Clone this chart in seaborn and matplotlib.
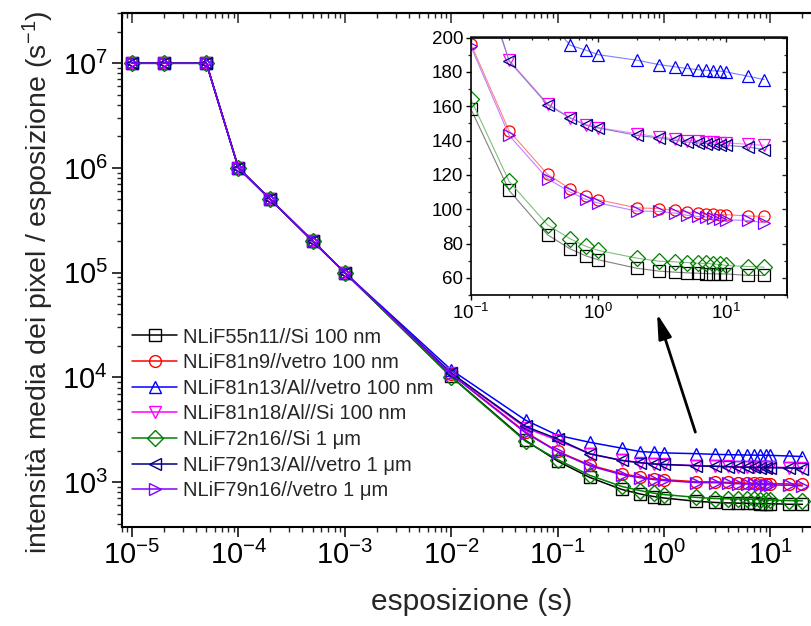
import numpy as np
import pandas as pd
import matplotlib
matplotlib.use("Agg")
import matplotlib.pyplot as plt
import matplotlib.colors as mcolors
from matplotlib.ticker import LogLocator, NullFormatter, MultipleLocator
import seaborn as sns

# ---------------- data ----------------
names = [
    "NLiF55n11//Si 100 nm",
    "NLiF81n9//vetro 100 nm",
    "NLiF81n13/Al//vetro 100 nm",
    "NLiF81n18/Al//Si 100 nm",
    "NLiF72n16//Si 1 μm",
    "NLiF79n13/Al//vetro 1 μm",
    "NLiF79n16//vetro 1 μm",
]
colors = ["#000000", "#FF0000", "#0000FF", "#FF00FF", "#008000", "#000080", "#8000FF"]
markers = ["s", "o", "^", "v", "D", "<", ">"]

t_main = [1e-5, 2e-5, 5e-5, 1e-4, 2e-4, 5e-4, 1e-3, 1e-2, 5e-2,
          0.1, 0.2, 0.4, 0.6, 0.8, 1, 2, 3, 4, 5, 6, 7, 8, 9, 10, 15, 20]

main_black = [1e7, 1e7, 1e7, 1e6, 5e5, 2e5, 1e5, 10200, 2500,
              1586, 1109, 851, 769, 728, 705, 656, 639, 633, 629, 627, 625, 624, 623, 623, 614, 614]
main_red = [1e7, 1e7, 1e7, 1e6, 5e5, 2e5, 1e5, 10800, 3000,
            1965, 1456, 1203, 1119, 1076, 1055, 1008, 1003, 993, 983, 977, 973, 970, 968, 968, 960, 958]
main_blue = [1e7, 1e7, 1e7, 1e6, 5e5, 2e5, 1e5, 11800, 3900,
             2800, 2400, 2110, 1955, 1926, 1900, 1868, 1842, 1829, 1819, 1813, 1809, 1806, 1804, 1800, 1774, 1755]
main_magenta = [1e7, 1e7, 1e7, 1e6, 5e5, 2e5, 1e5, 11000, 3300,
                2500, 1868, 1615, 1533, 1493, 1475, 1440, 1420, 1410, 1400, 1397, 1391, 1389, 1388, 1386, 1378, 1372]
main_green = [1e7, 1e7, 1e7, 1e6, 5e5, 2e5, 1e5, 10100, 2450,
              1642, 1162, 909, 828, 783, 760, 715, 697, 693, 689, 685, 684, 680, 678, 672, 666, 662]
main_navy = [1e7, 1e7, 1e7, 1e6, 5e5, 2e5, 1e5, 11000, 3400,
             2580, 1862, 1609, 1531, 1489, 1473, 1430, 1415, 1401, 1391, 1386, 1382, 1378, 1376, 1372, 1362, 1347]
main_purple = [1e7, 1e7, 1e7, 1e6, 5e5, 2e5, 1e5, 10700, 2950,
               1950, 1430, 1178, 1100, 1057, 1036, 989, 987, 977, 964, 958, 954, 948, 944, 938, 934, 920]

t_inset = [0.1, 0.2, 0.4, 0.6, 0.8, 1, 2, 3, 4, 5, 6, 7, 8, 9, 10, 15, 20]
ins_black = [158.6, 110.9, 85.1, 76.9, 72.8, 70.5, 65.6, 63.9, 63.3, 62.9, 62.7, 62.5, 62.3, 62.3, 62.3, 61.4, 61.4]
ins_red = [196.5, 145.6, 120.3, 111.9, 107.6, 105.5, 100.8, 100.3, 99.3, 98.3, 97.7, 97.3, 97.0, 96.8, 96.8, 96.0, 95.8]
ins_blue = [280, 240, 211, 195.5, 192.6, 190.0, 186.8, 184.2, 182.9, 181.9, 181.3, 180.9, 180.6, 180.4, 180.0, 177.4, 175.5]
ins_magenta = [250, 186.8, 161.5, 153.3, 149.3, 147.5, 144.0, 142.0, 141.0, 140.0, 139.7, 139.1, 138.9, 138.8, 138.6, 137.8, 137.2]
ins_green = [164.2, 116.2, 90.9, 82.8, 78.3, 76.0, 71.5, 69.7, 69.3, 68.9, 68.5, 68.4, 68.0, 67.8, 67.2, 66.6, 66.2]
ins_navy = [258, 186.2, 160.9, 153.1, 148.9, 147.3, 143.0, 141.5, 140.1, 139.1, 138.6, 138.2, 137.8, 137.6, 137.2, 136.2, 134.7]
ins_purple = [195.0, 143.0, 117.8, 110.0, 105.7, 103.6, 98.9, 98.7, 97.7, 96.4, 95.8, 95.4, 94.8, 94.4, 93.8, 93.4, 92.0]

main_vals = [main_black, main_red, main_blue, main_magenta, main_green, main_navy, main_purple]
ins_vals = [ins_black, ins_red, ins_blue, ins_magenta, ins_green, ins_navy, ins_purple]

df_main = pd.DataFrame([(n, t, v) for n, vals in zip(names, main_vals) for t, v in zip(t_main, vals)],
                       columns=["serie", "t", "v"])
df_ins = pd.DataFrame([(n, t, v) for n, vals in zip(names, ins_vals) for t, v in zip(t_inset, vals)],
                      columns=["serie", "t", "v"])

# ---------------- style ----------------
sns.set_theme(style="ticks")
plt.rcParams["font.family"] = ["Liberation Sans", "DejaVu Sans"]
plt.rcParams["mathtext.fontset"] = "custom"
plt.rcParams["mathtext.rm"] = "Liberation Sans"
plt.rcParams["mathtext.it"] = "Liberation Sans:italic"
plt.rcParams["mathtext.bf"] = "Liberation Sans:bold"
plt.rcParams["mathtext.default"] = "regular"

W, H = 811, 626
fig = plt.figure(figsize=(W / 100, H / 100), dpi=100)
fig.patch.set_facecolor("white")

# main axes (extends slightly past the right edge, like the reference crop)
axL, axR, axT, axB = 121.7, 821.2, 13.3, 526.7
ax = fig.add_axes([axL / W, (H - axB) / H, (axR - axL) / W, (axB - axT) / H])
ax.set_facecolor("white")

pal = dict(zip(names, colors))
mk = dict(zip(names, markers))

sns.lineplot(data=df_main, x="t", y="v", hue="serie", style="serie",
             hue_order=names, style_order=names, palette=pal, markers=mk,
             dashes=False, estimator=None, errorbar=None, legend=False, ax=ax,
             markersize=8.5, linewidth=1.1)
for ln in ax.lines:
    c = ln.get_color()
    ln.set_markerfacecolor("none")
    ln.set_markeredgecolor(c)
    ln.set_markeredgewidth(1.0)

ax.set_xscale("log")
ax.set_yscale("log")
ax.set_xlim(8e-6, 30)
ax.set_ylim(375, 3e7)

ax.xaxis.set_major_locator(LogLocator(base=10, numticks=30))
ax.xaxis.set_minor_locator(LogLocator(base=10, subs=np.arange(2, 10), numticks=200))
ax.xaxis.set_minor_formatter(NullFormatter())
ax.yaxis.set_major_locator(LogLocator(base=10, numticks=30))
ax.yaxis.set_minor_locator(LogLocator(base=10, subs=np.arange(2, 10), numticks=200))
ax.yaxis.set_minor_formatter(NullFormatter())

for sp in ax.spines.values():
    sp.set_linewidth(1.5)
    sp.set_color("black")
ax.tick_params(which="major", direction="out", length=7, width=1.1, labelsize=21,
               colors="black", pad=3, top=False, right=False)
ax.tick_params(which="minor", direction="out", length=3.6, width=1.0, top=False, right=False)

for side in ("top", "right"):
    sec = ax.secondary_xaxis("top") if side == "top" else ax.secondary_yaxis("right")
    axis = sec.xaxis if side == "top" else sec.yaxis
    axis.set_major_locator(LogLocator(base=10, numticks=30))
    axis.set_minor_locator(LogLocator(base=10, subs=np.arange(2, 10), numticks=200))
    axis.set_major_formatter(NullFormatter())
    axis.set_minor_formatter(NullFormatter())
    sec.tick_params(which="major", direction="in", length=7, width=1.1)
    sec.tick_params(which="minor", direction="in", length=3.6, width=1.0)
    for sp in sec.spines.values():
        sp.set_linewidth(1.5)

ax.set_xlabel("esposizione (s)", fontsize=21.5)
ax.set_ylabel("intensità media dei pixel / esposizione (s$^{-1}$)", fontsize=20.5)
ax.xaxis.set_label_coords(0.5, -0.119)
ax.yaxis.set_label_coords(-0.094, 0.476)

leg = ax.legend(handles=ax.lines[:7], labels=names, loc="upper left",
                bbox_to_anchor=(0.0147, 0.388), frameon=False, fontsize=14.5,
                handlelength=2.24, handletextpad=0.3, labelspacing=0.33,
                borderpad=0, borderaxespad=0)

ax.annotate("", xy=(0.86, 4.06e4), xytext=(1.97, 3.0e3), xycoords="data",
            arrowprops=dict(arrowstyle="-|>,head_length=1.5,head_width=0.4",
                            lw=2.0, color="black", shrinkA=0, shrinkB=0,
                            mutation_scale=10))

# ---------------- inset ----------------
iL, iR, iT, iB = 470.7, 786.7, 37.5, 295.0
axi = fig.add_axes([iL / W, (H - iB) / H, (iR - iL) / W, (iB - iT) / H])
axi.set_facecolor("white")
sns.lineplot(data=df_ins, x="t", y="v", hue="serie", style="serie",
             hue_order=names, style_order=names, palette=pal, markers=mk,
             dashes=False, estimator=None, errorbar=None, legend=False, ax=axi,
             markersize=8, linewidth=0.8)
for ln in axi.lines:
    c = ln.get_color()
    rgb = np.array(mcolors.to_rgb(c))
    light = 1 - (1 - rgb) * 0.5
    ln.set_color(light)
    ln.set_markerfacecolor("none")
    ln.set_markeredgecolor(c)
    ln.set_markeredgewidth(0.9)

axi.set_xscale("log")
axi.set_xlim(0.1, 30)
axi.set_ylim(50, 200)
axi.xaxis.set_major_locator(LogLocator(base=10, numticks=30))
axi.xaxis.set_minor_locator(LogLocator(base=10, subs=np.arange(2, 10), numticks=200))
axi.xaxis.set_minor_formatter(NullFormatter())
axi.yaxis.set_major_locator(MultipleLocator(20))
axi.yaxis.set_minor_locator(MultipleLocator(10))
axi.set_xlabel("")
axi.set_ylabel("")
for sp in axi.spines.values():
    sp.set_linewidth(1.2)
    sp.set_color("black")
axi.tick_params(which="major", direction="out", length=3.5, width=1.0, labelsize=13.5,
                colors="black", pad=2, top=False, right=False)
axi.tick_params(which="minor", direction="out", length=2, width=0.9, top=False, right=False)

sx = axi.secondary_xaxis("top")
sx.xaxis.set_major_locator(LogLocator(base=10, numticks=30))
sx.xaxis.set_minor_locator(LogLocator(base=10, subs=np.arange(2, 10), numticks=200))
sx.xaxis.set_major_formatter(NullFormatter())
sx.xaxis.set_minor_formatter(NullFormatter())
sx.tick_params(which="major", direction="in", length=3.5, width=1.0)
sx.tick_params(which="minor", direction="in", length=2, width=0.9)
sy = axi.secondary_yaxis("right")
sy.yaxis.set_major_locator(MultipleLocator(20))
sy.yaxis.set_minor_locator(MultipleLocator(10))
sy.yaxis.set_major_formatter(NullFormatter())
sy.tick_params(which="major", direction="in", length=3.5, width=1.0)
sy.tick_params(which="minor", direction="in", length=2, width=0.9)
for s in (sx, sy):
    for sp in s.spines.values():
        sp.set_linewidth(1.2)

fig.savefig("out.png", dpi=100)
